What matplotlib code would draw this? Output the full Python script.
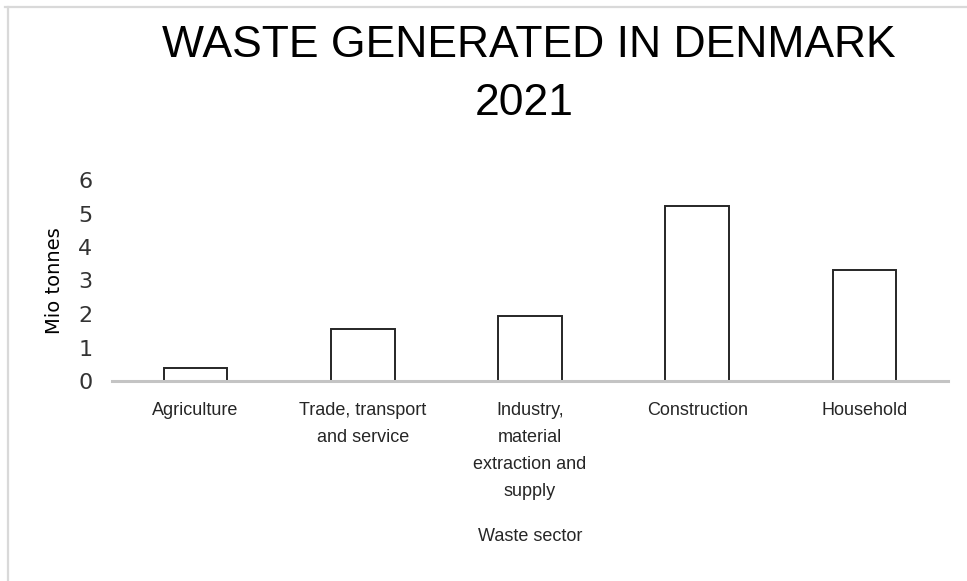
import matplotlib; matplotlib.use('Agg')
import matplotlib.pyplot as plt
from matplotlib.lines import Line2D

sectors = ['Agriculture', 'Trade, transport\nand service', 'Industry,\nmaterial\nextraction and\nsupply',
           'Construction', 'Household']
mio_tonnes = [0.38, 1.56, 1.94, 5.22, 3.31]
yticks = [0, 1, 2, 3, 4, 5, 6]

W, H = 967, 581
fig = plt.figure(figsize=(W / 100, H / 100), dpi=100)
ax = fig.add_axes([112 / W, 1 - 381 / H, (948 - 112) / W, (381 - 180) / H])

x = range(len(sectors))
ax.bar(x, mio_tonnes, width=0.38, color='white', edgecolor='#262626', linewidth=1.4, zorder=1)
ax.set_xlim(-0.5, len(sectors) - 0.5)
ax.set_ylim(0, 6)
ax.set_yticks(yticks)
ax.set_yticklabels([str(t) for t in yticks], family=['DejaVu Sans'], fontsize=16, color='#333333')
ax.set_xticks(list(x))
ax.set_xticklabels(sectors, family=['Liberation Sans', 'DejaVu Sans'], fontsize=13, linespacing=1.77,
                   va='top', color='#262626')
ax.tick_params(axis='both', length=0)
ax.tick_params(axis='y', pad=14)
ax.tick_params(axis='x', pad=15)
for s in ['top', 'right', 'left']:
    ax.spines[s].set_visible(False)
ax.spines['bottom'].set_color('#c4c4c4')
ax.spines['bottom'].set_linewidth(2.2)

ax.set_ylabel('Mio tonnes', family=['DejaVu Sans'], fontsize=14, labelpad=10, color='black')
ax.set_xlabel('Waste sector', family=['Liberation Sans', 'DejaVu Sans'], fontsize=13, labelpad=20, color='#262626')

# two-line title, placed on baselines
fig.text(529 / W, 1 - 57 / H, 'WASTE GENERATED IN DENMARK', ha='center', va='baseline',
         family=['Liberation Sans', 'DejaVu Sans'], fontsize=32)
fig.text(524 / W, 1 - 115 / H, '2021', ha='center', va='baseline',
         family=['Liberation Sans', 'DejaVu Sans'], fontsize=32)

# light frame edges of the cropped chart area
fig.add_artist(Line2D([5 / W, 1], [1 - 7 / H, 1 - 7 / H], color='#d9d9d9', lw=1.6))
fig.add_artist(Line2D([8 / W, 8 / W], [0, 1 - 7 / H], color='#d9d9d9', lw=1.6))

fig.savefig('out.png', dpi=100)
